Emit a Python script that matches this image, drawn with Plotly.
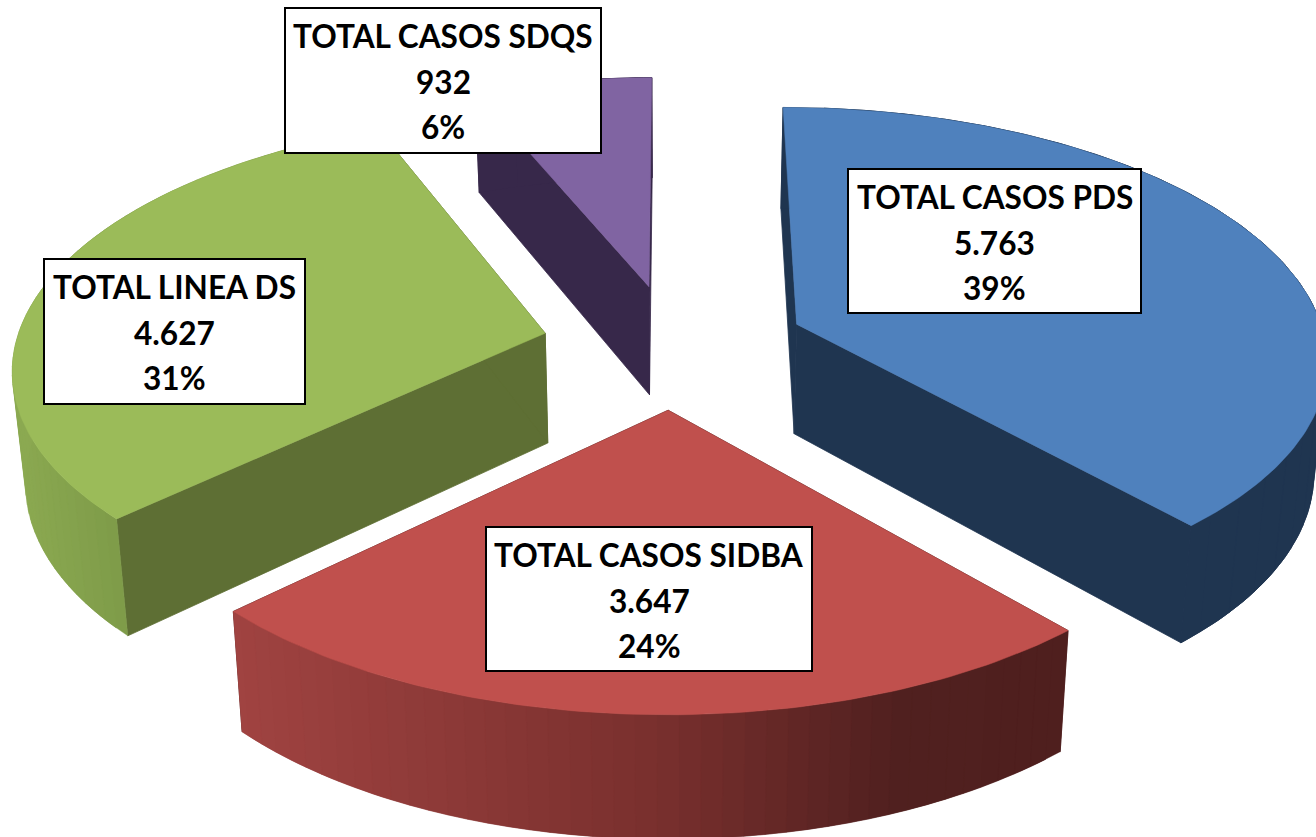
import math
import plotly.graph_objects as go

# ---- data ----
labels = ["TOTAL CASOS PDS", "TOTAL CASOS SIDBA", "TOTAL LINEA DS", "TOTAL CASOS SDQS"]
values = [5763, 3647, 4627, 932]
value_labels = ["5.763", "3.647", "4.627", "932"]
percent_labels = ["39%", "24%", "31%", "6%"]

top_colors = ["#4F81BD", "#C0504D", "#9BBB59", "#8064A2"]
cut_colors = ["#1F3550", "#4F1F1E", "#5E6F34", "#37284A"]
# colour of the outer wall, as stops (screen x, rgb); one stop means a flat wall
wall_stops = [
    [(0, (31, 53, 80))],
    [(232, (160, 67, 65)), (650, (122, 48, 46)), (900, (80, 32, 31)), (1071, (79, 31, 30))],
    [(14, (139, 169, 81)), (126, (125, 154, 72))],
    [(0, (55, 40, 74))],
]
# label boxes: left, top, right, bottom
boxes = [(848, 169, 1141, 313), (486, 527, 812, 671), (44, 259, 305, 404), (285, 8, 601, 153)]

# ---- projection of the tilted pie ----
CX, CY, K, A, P = 674.0, 346.0, 530.0, 249.0, 0.125
EXPLODE = 0.25
WALL_SCALE = 0.98


def project(u, v):
    w = 1 + P * v
    return CX + K * u / w, CY - A * v / w


def lower(pt):
    x, y = pt
    return CX + (x - CX) * WALL_SCALE, y + 108 + (y - 285) * 0.038


def wall_color(stops, x):
    if x <= stops[0][0]:
        c = stops[0][1]
    elif x >= stops[-1][0]:
        c = stops[-1][1]
    else:
        for (x0, c0), (x1, c1) in zip(stops, stops[1:]):
            if x0 <= x <= x1:
                t = (x - x0) / (x1 - x0)
                c = tuple(a + (b - a) * t for a, b in zip(c0, c1))
                break
    return "rgb(%d,%d,%d)" % tuple(round(a) for a in c)


def poly(fig, pts, color, width=0.5):
    xs = [p[0] for p in pts] + [pts[0][0]]
    ys = [p[1] for p in pts] + [pts[0][1]]
    fig.add_trace(go.Scatter(x=xs, y=ys, mode="lines", fill="toself", fillcolor=color,
                             line=dict(color=color, width=width), hoverinfo="skip", showlegend=False))


fig = go.Figure()
total = sum(values)
start = 0.0
for i, val in enumerate(values):
    sweep = 360.0 * val / total
    mid = math.radians(start + sweep / 2)
    ou, ov = EXPLODE * math.sin(mid), EXPLODE * math.cos(mid)
    apex = project(ou, ov)
    n = max(8, int(sweep))
    arc = []
    for j in range(n + 1):
        t = math.radians(start + sweep * j / n)
        arc.append(project(ou + math.sin(t), ov + math.cos(t)))
    # cut faces
    for edge in (arc[0], arc[-1]):
        poly(fig, [apex, edge, lower(edge), lower(apex)], cut_colors[i], 0.8)
    # outer wall: bands overlap the next one so that no seams show
    flat = len(wall_stops[i]) == 1
    step = 5 if flat else 2
    for j in range(0, n, step):
        band = arc[j:min(j + 2 * step, n) + 1]
        centre = arc[min(j + step // 2, n)]
        poly(fig, band + [lower(p) for p in reversed(band)], wall_color(wall_stops[i], centre[0]), 0.8 if flat else 0.4)
    # top face
    poly(fig, [apex] + arc, top_colors[i])
    start += sweep

shapes = []
annotations = []
for name, vlab, plab, box in zip(labels, value_labels, percent_labels, boxes):
    l, t, r, b = box
    shapes.append(dict(type="rect", x0=l, x1=r, y0=t, y1=b, xref="x", yref="y", layer="above",
                       fillcolor="white", line=dict(color="black", width=2)))
    for k, txt in enumerate([name, vlab, plab]):
        annotations.append(dict(x=(l + r) / 2, y=t + 28 + 45.5 * k, xref="x", yref="y", text=f"<b>{txt}</b>",
                                showarrow=False, xanchor="center", yanchor="middle",
                                font=dict(family="Lato", size=31.6, color="black")))

fig.update_layout(
    width=1316, height=837, margin=dict(l=0, r=0, t=0, b=0),
    paper_bgcolor="white", plot_bgcolor="white", showlegend=False,
    xaxis=dict(range=[0, 1316], visible=False, fixedrange=True),
    yaxis=dict(range=[837, 0], visible=False, fixedrange=True),
    shapes=shapes, annotations=annotations,
)
fig.write_html("out.html", post_script="document.body.style.margin='0';", config={"displayModeBar": False})
